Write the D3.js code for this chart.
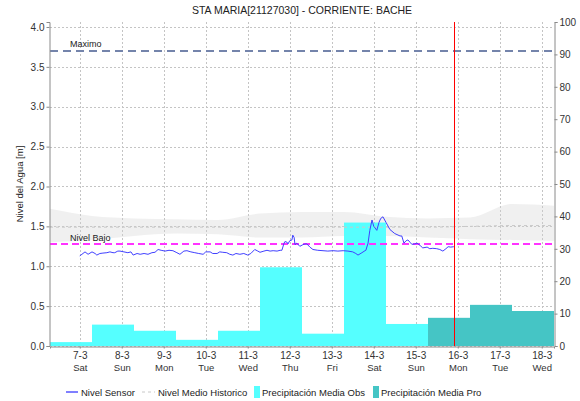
<!DOCTYPE html>
<html>
<head>
<meta charset="utf-8">
<script src="https://cdn.jsdelivr.net/npm/d3@7"></script>
<style>
  body { margin: 0; background: #fff; }
  svg { display: block; font-family: "Liberation Sans", Arial, sans-serif; }
</style>
</head>
<body>
<svg id="chart" width="580" height="401"></svg>
<script>
// ---------------- DATA ----------------
const title = "STA MARIA[21127030] - CORRIENTE: BACHE";
const yLabel = "Nivel del Agua [m]";

// daily precipitation periods (start of each hydrological day, 07:00)
const precipStarts = ["2020-03-06 07:00","2020-03-07 07:00","2020-03-08 07:00","2020-03-09 07:00",
  "2020-03-10 07:00","2020-03-11 07:00","2020-03-12 07:00","2020-03-13 07:00","2020-03-14 07:00",
  "2020-03-15 07:00","2020-03-16 07:00","2020-03-17 07:00"];
const precipObs = [1.2, 6.6, 4.7, 1.9, 4.7, 24.3, 3.8, 38.1, 6.8, null, null, null];
const precipPro = [null, null, null, null, null, null, null, null, null, 8.7, 12.7, 10.8];

// historical band (daily at 07:00)
const histTimes = ["2020-03-06 07:00","2020-03-07 07:00","2020-03-08 07:00","2020-03-09 07:00",
  "2020-03-10 07:00","2020-03-11 07:00","2020-03-12 07:00","2020-03-13 07:00","2020-03-14 07:00",
  "2020-03-15 07:00","2020-03-16 07:00","2020-03-17 07:00","2020-03-18 07:00"];
const histMax  = [1.72, 1.63, 1.60, 1.59, 1.58, 1.66, 1.68, 1.68, 1.62, 1.60, 1.61, 1.78, 1.76];
const histMin  = [1.30, 1.33, 1.38, 1.41, 1.40, 1.36, 1.36, 1.38, 1.38, 1.36, 1.34, 1.33, 1.32];
const histMean = [1.49, 1.49, 1.49, 1.49, 1.49, 1.49, 1.49, 1.49, 1.49, 1.49, 1.50, 1.51, 1.51];

// sensor level
const sensorTimes = ["07 00:00","07 01:15","07 03:00","07 04:45","07 07:00","07 08:45","07 09:45","07 11:30",
  "07 13:15","07 15:30","07 17:15","07 19:00","07 20:00","07 21:45","07 23:00","08 01:15","08 03:30",
  "08 05:15","08 06:30","08 08:45","08 10:30","08 12:45","08 15:00","08 17:15","08 19:00","08 20:45",
  "08 22:30","09 00:45","09 03:00","09 05:15","09 07:30","09 09:15","09 11:30","09 13:15","09 15:30",
  "09 17:45","09 20:00","09 22:30","10 00:00","10 02:30","10 04:00","10 06:30","10 08:00","10 09:45",
  "10 12:00","10 13:45","10 15:30","10 17:15","10 19:30","10 21:45","11 00:00","11 01:45","11 04:00",
  "11 05:45","11 07:00","11 09:15","11 11:00","11 12:45","11 14:30","11 16:45","11 18:30","11 19:30",
  "11 20:45","11 21:15","11 22:30","11 23:00","12 00:00","12 01:15","12 01:45","12 02:30","12 03:00",
  "12 04:00","12 05:45","12 07:30","12 08:45","12 09:45","12 11:30","12 13:15","12 16:00","12 19:00",
  "12 21:45","13 00:45","13 03:30","13 06:30","13 09:15","13 12:00","13 13:45","13 15:00","13 17:15",
  "13 19:00","13 19:30","13 20:45","13 21:45","13 23:00","14 00:00","14 00:45","14 01:45","14 03:00",
  "14 04:00","14 05:15","14 07:00","14 09:15","14 12:00","14 15:00","14 16:00","14 17:15","14 18:30",
  "14 19:30","14 20:45","14 21:45","14 23:30","15 00:45","15 02:30","15 04:00","15 06:30","15 08:00",
  "15 09:45","15 12:00","15 13:45","15 15:30","15 17:15","15 18:30","15 20:00","15 21:45"];
const sensorValues = [1.13,1.15,1.18,1.15,1.18,1.16,1.14,1.16,
  1.165,1.17,1.18,1.17,1.17,1.19,1.19,1.18,1.17,
  1.18,1.14,1.16,1.15,1.16,1.15,1.17,1.175,1.21,
  1.20,1.19,1.20,1.195,1.17,1.15,1.19,1.195,1.18,
  1.17,1.16,1.15,1.18,1.18,1.16,1.16,1.18,1.175,
  1.17,1.15,1.14,1.16,1.15,1.16,1.14,1.16,1.21,
  1.19,1.175,1.19,1.20,1.19,1.195,1.19,1.20,1.20,
  1.29,1.31,1.30,1.28,1.32,1.33,1.39,1.36,1.27,
  1.29,1.25,1.27,1.28,1.28,1.24,1.21,1.20,1.195,
  1.19,1.195,1.19,1.195,1.19,1.18,1.16,1.14,1.17,
  1.195,1.20,1.29,1.45,1.58,1.50,1.48,1.45,1.55,
  1.60,1.62,1.55,1.46,1.41,1.38,1.38,1.29,1.32,
  1.33,1.30,1.275,1.28,1.29,1.26,1.23,1.24,1.22,
  1.225,1.22,1.21,1.19,1.22,1.245,1.24,1.245];

const nivelMaximo = 3.7;
const nivelBajo = 1.28;
const nowTime = "2020-03-15 22:00";

const leftTicks = [0.0,0.5,1.0,1.5,2.0,2.5,3.0,3.5,4.0];
const rightTicks = [0,10,20,30,40,50,60,70,80,90,100];

// ---------------- CHART ----------------
const parse = d3.timeParse("%Y-%m-%d %H:%M");
const parseS = s => parse("2020-03-" + s);
const svg = d3.select("#chart");
const L = 50, R = 554, T = 22, B = 346;

const x = d3.scaleTime().domain([parse("2020-03-06 07:00"), parse("2020-03-18 07:00")]).range([L, R]);
const y = d3.scaleLinear().domain([0, 4.0625]).range([B, T]);
const y2 = d3.scaleLinear().domain([0, 100]).range([B, T]);

const gridColor = "#c4c4c4";
const dayTicks = d3.timeDay.range(parse("2020-03-07 00:00"), parse("2020-03-18 01:00"));

// grid
const grid = svg.append("g");
grid.selectAll(".vg").data(dayTicks).join("line")
  .attr("x1", d => Math.round(x(d)) + 0.5).attr("x2", d => Math.round(x(d)) + 0.5)
  .attr("y1", T).attr("y2", B)
  .attr("stroke", gridColor).attr("stroke-width", 1).attr("stroke-dasharray", "2,2");
grid.selectAll(".hg").data(leftTicks).join("line")
  .attr("x1", L).attr("x2", R)
  .attr("y1", d => Math.round(y(d)) + 0.5).attr("y2", d => Math.round(y(d)) + 0.5)
  .attr("stroke", gridColor).attr("stroke-width", 1).attr("stroke-dasharray", "2,2");

// historical band
const hist = histTimes.map((t, i) => ({ t: parse(t), max: histMax[i], min: histMin[i], mean: histMean[i] }));
svg.append("path").datum(hist)
  .attr("d", d3.area().x(d => x(d.t)).y0(d => y(d.min)).y1(d => y(d.max)).curve(d3.curveMonotoneX))
  .attr("fill", "#d0d0d0").attr("fill-opacity", 0.33);

// precipitation bars
const day = 24 * 3600 * 1000;
const bars = precipStarts.map((s, i) => ({ t0: parse(s), obs: precipObs[i], pro: precipPro[i] }));
svg.append("g").selectAll("rect").data(bars.filter(d => d.obs != null)).join("rect")
  .attr("x", d => x(d.t0)).attr("width", d => x(new Date(+d.t0 + day)) - x(d.t0))
  .attr("y", d => y2(d.obs)).attr("height", d => B - y2(d.obs))
  .attr("fill", "#55ffff");
svg.append("g").selectAll("rect").data(bars.filter(d => d.pro != null)).join("rect")
  .attr("x", d => x(d.t0)).attr("width", d => x(new Date(+d.t0 + day)) - x(d.t0))
  .attr("y", d => y2(d.pro)).attr("height", d => B - y2(d.pro))
  .attr("fill", "#45c5c5");

// historical mean
svg.append("path").datum(hist)
  .attr("d", d3.line().x(d => x(d.t)).y(d => y(d.mean)).curve(d3.curveMonotoneX))
  .attr("fill", "none").attr("stroke", "#c8c8c8").attr("stroke-width", 1).attr("stroke-dasharray", "3,3");

// reference lines
svg.append("line").attr("x1", L).attr("x2", R).attr("y1", y(nivelMaximo)).attr("y2", y(nivelMaximo))
  .attr("stroke", "#7484ab").attr("stroke-width", 2).attr("stroke-dasharray", "8,5");
svg.append("text").attr("x", 70).attr("y", y(nivelMaximo) - 4).attr("font-size", 9).attr("fill", "#222").text("Maximo");
svg.append("line").attr("x1", L).attr("x2", R).attr("y1", y(nivelBajo)).attr("y2", y(nivelBajo))
  .attr("stroke", "#ff33ff").attr("stroke-width", 2).attr("stroke-dasharray", "7,4");
svg.append("text").attr("x", 70).attr("y", y(nivelBajo) - 3).attr("font-size", 9).attr("fill", "#222").text("Nivel Bajo");

// sensor
const sensor = sensorTimes.map((t, i) => ({ t: parseS(t), v: sensorValues[i] }));
svg.append("path").datum(sensor)
  .attr("d", d3.line().x(d => x(d.t)).y(d => y(d.v)))
  .attr("fill", "none").attr("stroke", "#4040ff").attr("stroke-width", 1);

// now line
svg.append("line").attr("x1", Math.round(x(parse(nowTime))) + 0.5).attr("x2", Math.round(x(parse(nowTime))) + 0.5)
  .attr("y1", T).attr("y2", B).attr("stroke", "#ff0000").attr("stroke-width", 1);

// axes
const axisColor = "#8a8a8a";
const gl = svg.append("g").attr("transform", `translate(${L - 0.5},0)`)
  .call(d3.axisLeft(y).tickValues(leftTicks).tickFormat(d3.format(".1f")).tickSize(3).tickPadding(2));
const gr = svg.append("g").attr("transform", `translate(${R + 0.5},0)`)
  .call(d3.axisRight(y2).tickValues(rightTicks).tickSize(3).tickPadding(2));
const gb = svg.append("g").attr("transform", `translate(0,${B + 0.5})`)
  .call(d3.axisBottom(x).tickValues(dayTicks).tickFormat(d3.timeFormat("%-d-%-m")).tickSize(2).tickPadding(3));
[gl, gr, gb].forEach(g => {
  g.selectAll(".domain").attr("stroke", axisColor);
  g.selectAll(".tick line").attr("stroke", axisColor);
  g.selectAll("text").attr("font-size", 10).attr("fill", "#333").attr("font-family", "Liberation Sans, Arial, sans-serif");
});
gb.selectAll(".tick").append("text")
  .attr("y", 18).attr("dy", "0.71em").attr("fill", "#333").attr("font-size", 9.5)
  .attr("font-family", "Liberation Sans, Arial, sans-serif").attr("text-anchor", "middle")
  .text(d => d3.timeFormat("%a")(d));

// title and y label
svg.append("text").attr("x", (L + R) / 2).attr("y", 14).attr("text-anchor", "middle")
  .attr("font-size", 10.5).attr("fill", "#222").text(title);
svg.append("text").attr("transform", `translate(23,${(T + B) / 2}) rotate(-90)`).attr("text-anchor", "middle")
  .attr("font-size", 9.5).attr("fill", "#222").text(yLabel);

// legend
const lg = svg.append("g").attr("font-size", 9.5).attr("fill", "#222");
const ly = 392;
lg.append("line").attr("x1", 66).attr("x2", 78).attr("y1", ly).attr("y2", ly).attr("stroke", "#0000ff").attr("stroke-width", 1);
lg.append("text").attr("x", 81).attr("y", ly + 3.5).text("Nivel Sensor");
lg.append("line").attr("x1", 142).attr("x2", 155).attr("y1", ly).attr("y2", ly).attr("stroke", "#c8c8c8").attr("stroke-dasharray", "3,3");
lg.append("text").attr("x", 158).attr("y", ly + 3.5).text("Nivel Medio Historico");
lg.append("rect").attr("x", 254).attr("y", ly - 6).attr("width", 6).attr("height", 12).attr("fill", "#55ffff");
lg.append("text").attr("x", 262).attr("y", ly + 3.5).text("Precipitación Media Obs");
lg.append("rect").attr("x", 373).attr("y", ly - 6).attr("width", 6).attr("height", 12).attr("fill", "#45c5c5");
lg.append("text").attr("x", 381).attr("y", ly + 3.5).text("Precipitación Media Pro");
</script>
</body>
</html>
